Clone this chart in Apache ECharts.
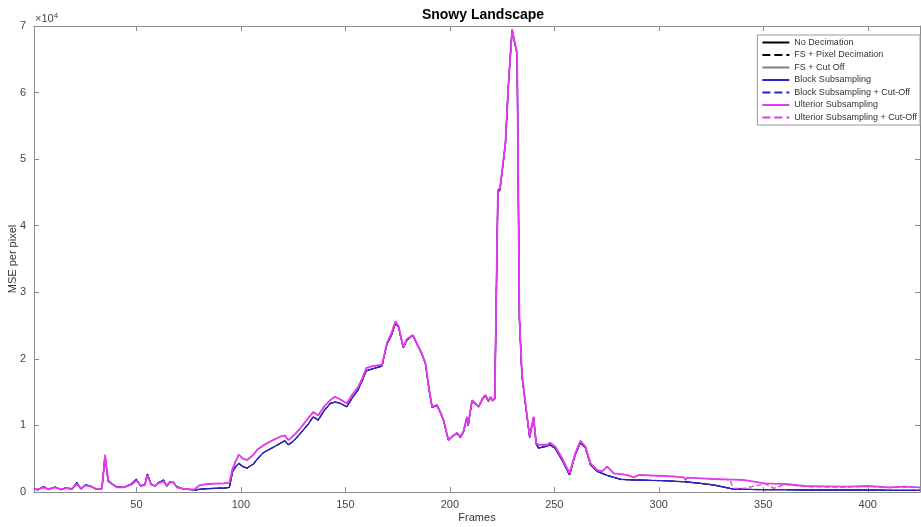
<!DOCTYPE html>
<html>
<head>
<meta charset="utf-8">
<title>Snowy Landscape</title>
<script src="https://cdn.jsdelivr.net/npm/echarts@6/dist/echarts.min.js"></script>
<style>
  html, body { margin: 0; padding: 0; background: #fff; }
  #chart { width: 921px; height: 527px; }
</style>
</head>
<body>
<div id="chart"></div>
<script>
// Sampled frame positions (shared by every curve)
const frames = [
  1, 3, 5.5, 8, 11, 14, 16.5, 19, 21.5, 23.5,
  25.5, 28, 31, 33.5, 35, 36.5, 38, 40.5, 44, 47.5,
  50, 52, 54, 55.3, 57, 59, 60.5, 63, 64.5, 66,
  67.7, 69.3, 72, 75, 78, 80, 84, 88, 92, 94.5,
  96, 97.5, 99, 101, 103, 106, 108, 110.7, 113, 116,
  118.8, 121, 122.7, 125, 126.8, 129, 132, 134.6, 137, 140,
  142.8, 145, 147, 150.7, 153, 156, 158, 160, 163, 165,
  167.5, 169.9, 172, 173.9, 175.4, 177.7, 179.5, 181, 182.3, 184.3,
  186.5, 188.3, 190, 191.5, 193.9, 195.5, 197, 199.3, 201, 203.4,
  205, 206.5, 208.2, 208.8, 210.6, 212, 213.8, 215.5, 217, 218.5,
  219.5, 220.5, 221.5, 223, 224, 226.6, 228, 229.8, 231, 232.2,
  233.3, 234.5, 236, 238.2, 240.1, 241.3, 242.5, 246.5, 248, 250.5,
  253.7, 257.3, 260, 262.5, 264.9, 267.3, 270.5, 272.9, 275.3, 278.5,
  281.7, 284.9, 288.1, 290.5, 295, 302.5, 308, 312, 312.8, 313.6,
  320, 326.4, 334, 335.7, 341, 350.8, 355, 360.5, 370, 380,
  390, 400, 410, 418, 425
];

// MSE per pixel, full-search / block methods (curves coincide)
const noDecimation = [
  400, 350, 800, 400, 750, 350, 650, 400, 1400, 450,
  1050, 900, 400, 500, 5400, 1600, 1300, 800, 700, 1200,
  1900, 900, 1100, 2700, 1200, 900, 1400, 1800, 900, 1500,
  1400, 800, 500, 400, 300, 400, 500, 550, 600, 700,
  3000, 3800, 4300, 3800, 3600, 4200, 5000, 5900, 6300, 6800,
  7300, 7700, 7100, 7600, 8200, 9000, 10100, 11300, 10800, 12300,
  13300, 13500, 13400, 12800, 14000, 15300, 16700, 18200, 18500, 18700,
  18900, 22200, 23500, 25300, 24800, 21700, 22800, 23200, 23500, 22200,
  20800, 19300, 15500, 12700, 13000, 11900, 10700, 7800, 8300, 8800,
  8200, 9000, 11200, 10000, 13700, 13300, 12800, 13900, 14500, 13600,
  14200, 13700, 14000, 45000, 45400, 52300, 61000, 69400, 67500, 65800,
  26000, 17500, 13700, 8200, 11200, 7200, 6600, 6900, 7100, 6500,
  4800, 2550, 5600, 7400, 6600, 4100, 3100, 2800, 2500, 2200,
  1900, 1850, 1800, 1800, 1750, 1700, 1600, 1550, 1500, 1500,
  1300, 1050, 550, 450, 400, 350, 350, 350, 300, 300,
  300, 300, 250, 250, 250
];

// MSE per pixel, ulterior subsampling
const ulterior = [
  450, 400, 700, 400, 700, 400, 600, 450, 1200, 500,
  1000, 850, 450, 500, 5600, 1800, 1300, 700, 700, 1100,
  1700, 1000, 1000, 2500, 1100, 900, 1300, 1600, 900, 1400,
  1500, 700, 500, 400, 400, 1000, 1200, 1250, 1300, 1400,
  3500, 4600, 5600, 5000, 4800, 5600, 6400, 7000, 7400, 7900,
  8300, 8500, 7800, 8400, 9000, 9800, 11000, 12000, 11500, 12900,
  13800, 14300, 14000, 13300, 14500, 15700, 17000, 18600, 18900, 19000,
  19100, 22400, 23800, 25600, 25000, 21800, 23000, 23300, 23600, 22300,
  20900, 19400, 15600, 12800, 13100, 12000, 10800, 7800, 8300, 8900,
  8300, 9100, 11300, 10100, 13800, 13400, 12800, 14000, 14600, 13700,
  14300, 13700, 14100, 45400, 45600, 52400, 61000, 69500, 67600, 65900,
  26000, 17800, 13800, 8300, 11300, 7300, 7100, 7100, 7400, 6800,
  5100, 2800, 5800, 7700, 6800, 4300, 3300, 3100, 3800, 2800,
  2700, 2550, 2200, 2550, 2500, 2400, 2300, 2200, 1800, 2150,
  2050, 1950, 1850, 1850, 1800, 1300, 1250, 1200, 900, 850,
  800, 900, 700, 800, 700
];

// MSE per pixel, ulterior subsampling with cut-off
const ulteriorCut = [
  450, 400, 700, 400, 700, 400, 600, 450, 1200, 500,
  1000, 850, 450, 500, 5600, 1800, 1300, 700, 700, 1100,
  1700, 1000, 1000, 2500, 1100, 900, 1300, 1600, 900, 1400,
  1500, 700, 500, 400, 400, 1000, 1200, 1250, 1300, 1400,
  3500, 4600, 5600, 5000, 4800, 5600, 6400, 7000, 7400, 7900,
  8300, 8500, 7800, 8400, 9000, 9800, 11000, 12000, 11500, 12900,
  13800, 14300, 14000, 13300, 14500, 15700, 17000, 18600, 18900, 19000,
  19100, 22400, 23800, 25600, 25000, 21800, 23000, 23300, 23600, 22300,
  20900, 19400, 15600, 12800, 13100, 12000, 10800, 7800, 8300, 8900,
  8300, 9100, 11300, 10100, 13800, 13400, 12800, 14000, 14600, 13700,
  14300, 13700, 14100, 45400, 45600, 52400, 61000, 69500, 67600, 65900,
  26000, 17800, 13800, 8300, 11300, 7300, 7100, 7100, 7400, 6800,
  5100, 2800, 5800, 7700, 6800, 4300, 3300, 3100, 3800, 2800,
  2700, 2550, 2200, 2550, 2500, 2400, 2300, 2200, 1800, 2150,
  2050, 1950, 1850, 550, 550, 1250, 550, 1150, 800, 750,
  750, 850, 650, 750, 650
];

const xTicks = [50, 100, 150, 200, 250, 300, 350, 400];
const yTicks = [0, 1, 2, 3, 4, 5, 6, 7];
const yScale = 10000;

const seriesDefs = [
  { name: 'No Decimation', values: noDecimation, color: '#000000', type: 'solid', width: 1 },
  { name: 'FS + Pixel Decimation', values: noDecimation, color: '#000000', type: 'dashed', width: 1 },
  { name: 'FS + Cut Off', values: noDecimation, color: '#808080', type: 'solid', width: 1 },
  { name: 'Block Subsampling', values: noDecimation, color: '#2c24c0', type: 'solid', width: 1.3 },
  { name: 'Block Subsampling + Cut-Off', values: noDecimation, color: '#2c24c0', type: 'dashed', width: 1.3 },
  { name: 'Ulterior Subsampling', values: ulterior, color: '#e43ce8', type: 'solid', width: 1.8 },
  { name: 'Ulterior Subsampling + Cut-Off', values: ulteriorCut, color: '#e43ce8', type: 'dashed', width: 1.3 }
];

const axisGrey = '#8c8c8c';
const labelGrey = '#444444';
const font = 'Liberation Sans, Arial, Helvetica, sans-serif';

const chart = echarts.init(document.getElementById('chart'), null, { renderer: 'canvas' });

chart.setOption({
  animation: false,
  backgroundColor: '#ffffff',
  title: {
    text: 'Snowy Landscape',
    left: 478,
    textAlign: 'center',
    top: 3,
    textStyle: { fontFamily: font, fontSize: 14, fontWeight: 'bold', color: '#000' }
  },
  graphic: [{
    type: 'text',
    left: 35,
    top: 12,
    style: {
      text: '×10{sup|4}',
      fontFamily: font,
      fontSize: 11,
      fill: labelGrey,
      rich: { sup: { fontSize: 8, verticalAlign: 'top', padding: [0, 0, 6, 0], fill: labelGrey, fontFamily: font } }
    }
  }],
  legend: {
    orient: 'vertical',
    right: 1,
    top: 35,
    backgroundColor: '#ffffff',
    borderColor: '#9a9a9a',
    borderWidth: 1,
    borderRadius: 0,
    padding: [3, 3, 3, 4],
    itemWidth: 27,
    itemHeight: 9,
    itemGap: 3.5,
    itemStyle: { opacity: 0 },
    textStyle: { fontFamily: font, fontSize: 9, color: '#333' },
    data: seriesDefs.map(s => s.name)
  },
  grid: { left: 34, right: 1, top: 26, bottom: 35, containLabel: false, outerBoundsMode: 'none' },
  xAxis: [{
    type: 'value',
    min: 1,
    max: 425,
    position: 'bottom',
    name: 'Frames',
    nameLocation: 'middle',
    nameGap: 20,
    nameMoveOverlap: false,
    nameTextStyle: { fontFamily: font, fontSize: 11, color: '#333' },
    axisLine: { show: true, onZero: false, lineStyle: { color: axisGrey, width: 1 } },
    axisTick: { show: true, inside: true, length: 5, customValues: xTicks, lineStyle: { color: axisGrey } },
    axisLabel: { customValues: xTicks, margin: 7, fontFamily: font, fontSize: 11, color: labelGrey },
    splitLine: { show: false }
  }, {
    type: 'value',
    min: 1,
    max: 425,
    position: 'top',
    axisLine: { show: true, onZero: false, lineStyle: { color: axisGrey, width: 1 } },
    axisTick: { show: true, inside: true, length: 5, customValues: xTicks, lineStyle: { color: axisGrey } },
    axisLabel: { show: false },
    splitLine: { show: false }
  }],
  yAxis: [{
    type: 'value',
    min: 0,
    max: 70000,
    interval: 10000,
    position: 'left',
    name: 'MSE per pixel',
    nameLocation: 'middle',
    nameGap: 16,
    nameMoveOverlap: false,
    nameTextStyle: { fontFamily: font, fontSize: 11, color: '#333' },
    axisLine: { show: true, onZero: false, lineStyle: { color: axisGrey, width: 1 } },
    axisTick: { show: true, inside: true, length: 5, lineStyle: { color: axisGrey } },
    axisLabel: {
      margin: 8, fontFamily: font, fontSize: 11, color: labelGrey,
      formatter: v => String(yTicks[Math.round(v / yScale)])
    },
    splitLine: { show: false }
  }, {
    type: 'value',
    min: 0,
    max: 70000,
    interval: 10000,
    position: 'right',
    axisLine: { show: true, onZero: false, lineStyle: { color: axisGrey, width: 1 } },
    axisTick: { show: true, inside: true, length: 5, lineStyle: { color: axisGrey } },
    axisLabel: { show: false },
    splitLine: { show: false }
  }],
  series: seriesDefs.map(s => ({
    name: s.name,
    type: 'line',
    xAxisIndex: 0,
    yAxisIndex: 0,
    symbol: 'none',
    smooth: false,
    color: s.color,
    lineStyle: { color: s.color, type: s.type, width: s.width },
    data: frames.map((f, i) => [f, s.values[i]])
  }))
});
</script>
</body>
</html>
